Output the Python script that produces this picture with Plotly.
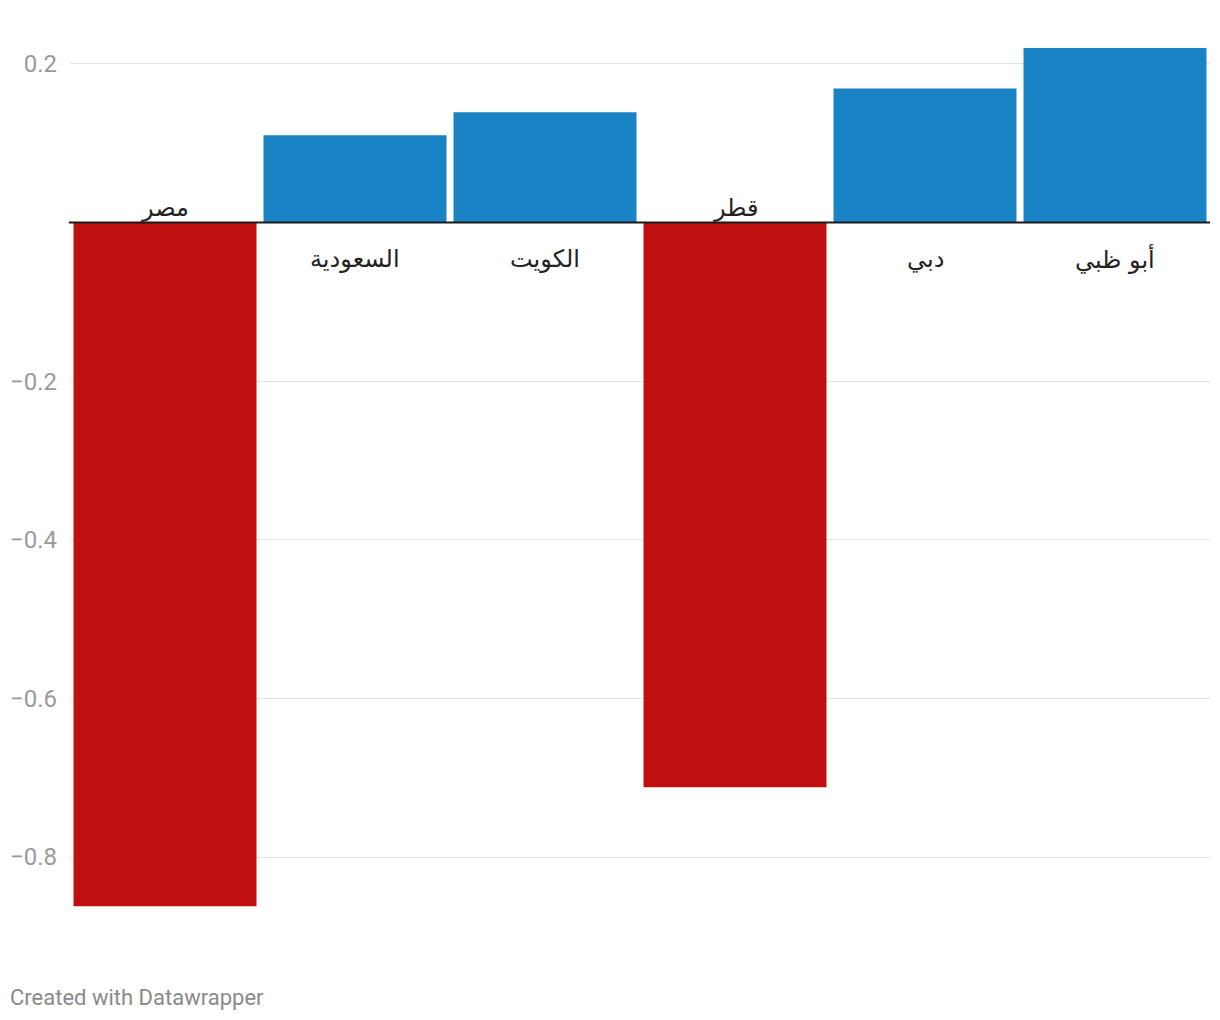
import plotly.graph_objects as go

categories = ["مصر", "السعودية", "الكويت", "قطر", "دبي", "أبو ظبي"]
values = [-0.862, 0.11, 0.139, -0.712, 0.169, 0.22]
tick_vals = [0.2, -0.2, -0.4, -0.6, -0.8]
tick_text = ["0.2", "\u22120.2", "\u22120.4", "\u22120.6", "\u22120.8"]

BLUE = "#1a83c6"
RED = "#c00f0f"
colors = [BLUE if v >= 0 else RED for v in values]

fig = go.Figure(go.Bar(
    x=categories, y=values, marker_color=colors, marker_line_width=0,
    hoverinfo="skip",
))

annotations = []
for c, v in zip(categories, values):
    annotations.append(dict(
        x=c, y=0, xref="x", yref="y", text=c, showarrow=False,
        yshift=-36 if v >= 0 else 15,
        font=dict(family="DejaVu Sans, Noto Sans, sans-serif", size=24, color="#222222"),
    ))
annotations.append(dict(
    x=0, y=0, xref="paper", yref="paper", xanchor="left", yanchor="middle",
    text="Created with Datawrapper", showarrow=False,
    xshift=-62, yshift=-67,
    font=dict(family="Roboto, sans-serif", size=22, color="#8a8a8a"),
))

fig.update_layout(
    width=1204, height=1004,
    margin=dict(l=62, r=2, t=32, b=82),
    paper_bgcolor="white", plot_bgcolor="white",
    bargap=0.037, showlegend=False,
    xaxis=dict(visible=False),
    yaxis=dict(
        range=[-0.892, 0.2302], tickvals=tick_vals, ticktext=tick_text,
        showgrid=True, gridcolor="#e2e2e2", gridwidth=1, zeroline=False,
        showline=False, ticks="", ticklabelstandoff=12,
        tickfont=dict(family="Roboto, sans-serif", size=24, color="#9a9a9a"),
    ),
    annotations=annotations,
    shapes=[dict(type="line", xref="paper", yref="y", x0=-0.001, x1=1, y0=0, y1=0,
                 line=dict(color="#1a1a1a", width=2), layer="above")],
)

fig.write_html("out.html")
